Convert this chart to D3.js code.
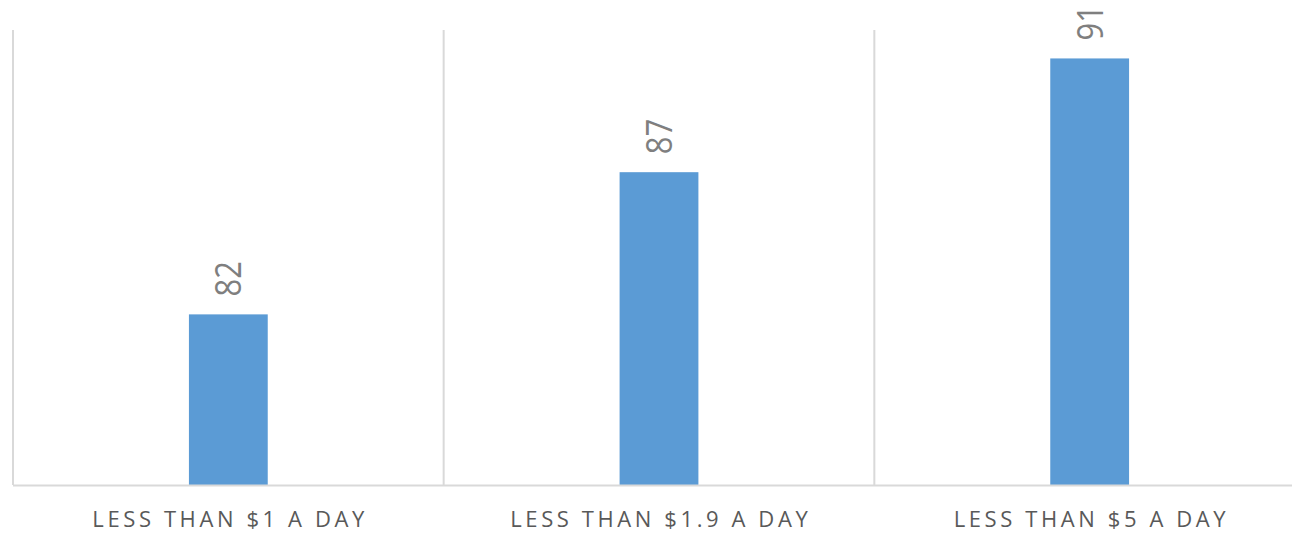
<!DOCTYPE html>
<html>
<head>
<meta charset="utf-8">
<script src="https://cdn.jsdelivr.net/npm/d3@7"></script>
<style>
  html, body { margin: 0; padding: 0; background: #ffffff; }
  svg { display: block; }
</style>
</head>
<body>
<svg id="chart" width="1292" height="533"></svg>
<script>
const categories = ["LESS THAN $1 A DAY", "LESS THAN $1.9 A DAY", "LESS THAN $5 A DAY"];
const values = [82, 87, 91];
const yDomain = [76, 92];

const W = 1292, H = 533;
const margin = { left: 13, top: 30, bottom: 48 };
const plotRight = 1305;           // plot area continues past the cropped right edge
const baseY = H - margin.bottom;  // 485

const svg = d3.select("#chart");

const x = d3.scaleBand().domain(categories).range([margin.left, plotRight]).padding(0);
const y = d3.scaleLinear().domain(yDomain).range([baseY, margin.top]);

const gridColor = "#d9d9d9";

// vertical category separators
const seps = categories.map(c => x(c)).concat([x.range()[1]]);
svg.append("g").selectAll("line").data(seps).join("line")
  .attr("x1", d => d).attr("x2", d => d)
  .attr("y1", y(yDomain[1])).attr("y2", baseY)
  .attr("stroke", gridColor).attr("stroke-width", 2);

// bars
const barW = x.bandwidth() * 0.183;
svg.append("g").selectAll("rect").data(values).join("rect")
  .attr("x", (d, i) => x(categories[i]) + (x.bandwidth() - barW) / 2)
  .attr("width", barW)
  .attr("y", d => y(d))
  .attr("height", d => baseY - y(d))
  .attr("fill", "#5b9bd5");

// baseline
svg.append("line")
  .attr("x1", margin.left).attr("x2", W)
  .attr("y1", baseY + 0.5).attr("y2", baseY + 0.5)
  .attr("stroke", gridColor).attr("stroke-width", 2);

// value labels (rotated)
svg.append("g").selectAll("text").data(values).join("text")
  .attr("transform", (d, i) => {
    const cx = x(categories[i]) + x.bandwidth() / 2;
    return `translate(${cx + 13},${y(d) - 18}) scale(1.15,1) rotate(-90)`;
  })
  .attr("text-anchor", "start")
  .attr("font-family", "'Open Sans', sans-serif")
  .attr("font-size", 31)
  .attr("fill", "#7f7f7f")
  .text(d => d);

// category labels
const ls = 3.6;
svg.append("g").selectAll("text").data(categories).join("text")
  .attr("x", d => x(d) + x.bandwidth() / 2 + ls / 2)
  .attr("y", 527)
  .attr("text-anchor", "middle")
  .attr("font-family", "'Open Sans', sans-serif")
  .attr("font-size", 22)
  .attr("letter-spacing", ls)
  .attr("fill", "#595959")
  .text(d => d);
</script>
</body>
</html>
